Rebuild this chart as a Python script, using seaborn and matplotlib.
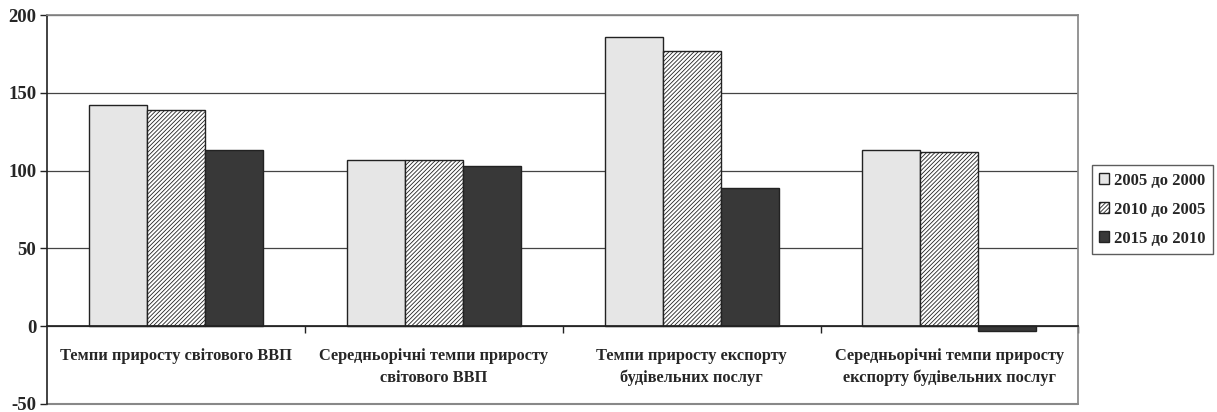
import matplotlib
matplotlib.use("Agg")
import matplotlib.pyplot as plt
import seaborn as sns
import pandas as pd

categories = ["Темпи приросту світового ВВП",
              "Середньорічні темпи приросту\nсвітового ВВП",
              "Темпи приросту експорту\nбудівельних послуг",
              "Середньорічні темпи приросту\nекспорту будівельних послуг"]
series = ["2005 до 2000", "2010 до 2005", "2015 до 2010"]
v2005 = [142, 107, 186, 113]
v2010 = [139, 107, 177, 112]
v2015 = [113, 103, 89, -3]

sns.set_theme(style="white")
plt.rcParams['font.family'] = ['Liberation Serif', 'DejaVu Serif']
plt.rcParams['font.weight'] = 'bold'
plt.rcParams['hatch.linewidth'] = 0.6
plt.rcParams['axes.unicode_minus'] = False

rows = []
for s, vals in zip(series, [v2005, v2010, v2015]):
    for c, v in zip(categories, vals):
        rows.append({"cat": c, "series": s, "val": v})
df = pd.DataFrame(rows)

fig, ax = plt.subplots(figsize=(12.17, 4.12), dpi=100)
fig.subplots_adjust(left=0.039, right=0.886, top=0.963, bottom=0.02)

colors = ["#e6e6e6", "#ffffff", "#383838"]
hatches = ["", "////////", ""]
sns.barplot(data=df, x="cat", y="val", hue="series", palette=colors,
            width=0.675, edgecolor="#222222", linewidth=1.0, ax=ax,
            saturation=1, legend=True)
for container, h in zip(ax.containers, hatches):
    for p in container:
        p.set_hatch(h)

ax.set_ylim(-50, 200)
ax.set_xlim(-0.5, 3.5)
ax.set_yticks([-50, 0, 50, 100, 150, 200])
ax.yaxis.grid(True, color="#444444", linewidth=0.9)
ax.set_axisbelow(True)
ax.set_xlabel("")
ax.set_ylabel("")

ax.spines['bottom'].set_position(('data', 0))
ax.spines['bottom'].set_color('#222222')
ax.spines['left'].set_color('#222222')
ax.spines['left'].set_linewidth(1.2)
for s in ['top', 'right']:
    ax.spines[s].set_color('#888888')
ax.axhline(-50, color='#888888', linewidth=1.5, clip_on=False)

ax.tick_params(axis='y', which='major', direction='out', length=5, width=1,
               color='#222222', labelsize=13.5, pad=3, left=True)
ax.set_xticks(range(4))
ax.set_xticklabels(categories, fontsize=11.8, fontweight='bold', linespacing=1.45)
ax.tick_params(axis='x', which='major', length=0, pad=16)
ax.set_xticks([0.5, 1.5, 2.5, 3.5], minor=True)
ax.tick_params(axis='x', which='minor', direction='out', length=5, width=1,
               color='#222222', bottom=True)
for lab in ax.get_yticklabels():
    lab.set_fontweight('bold')

leg = ax.legend(loc='center left', bbox_to_anchor=(1.013, 0.5),
                frameon=True, fontsize=12, handlelength=0.6, handleheight=0.6,
                handletextpad=0.3, labelspacing=0.78, borderpad=0.45,
                borderaxespad=0.0, fancybox=False, edgecolor='#333333')
leg.get_frame().set_linewidth(1.0)
for t in leg.get_texts():
    t.set_fontweight('bold')
for hnd, h in zip(leg.legend_handles, hatches):
    hnd.set_hatch(h)

fig.savefig("out.png", dpi=100)
